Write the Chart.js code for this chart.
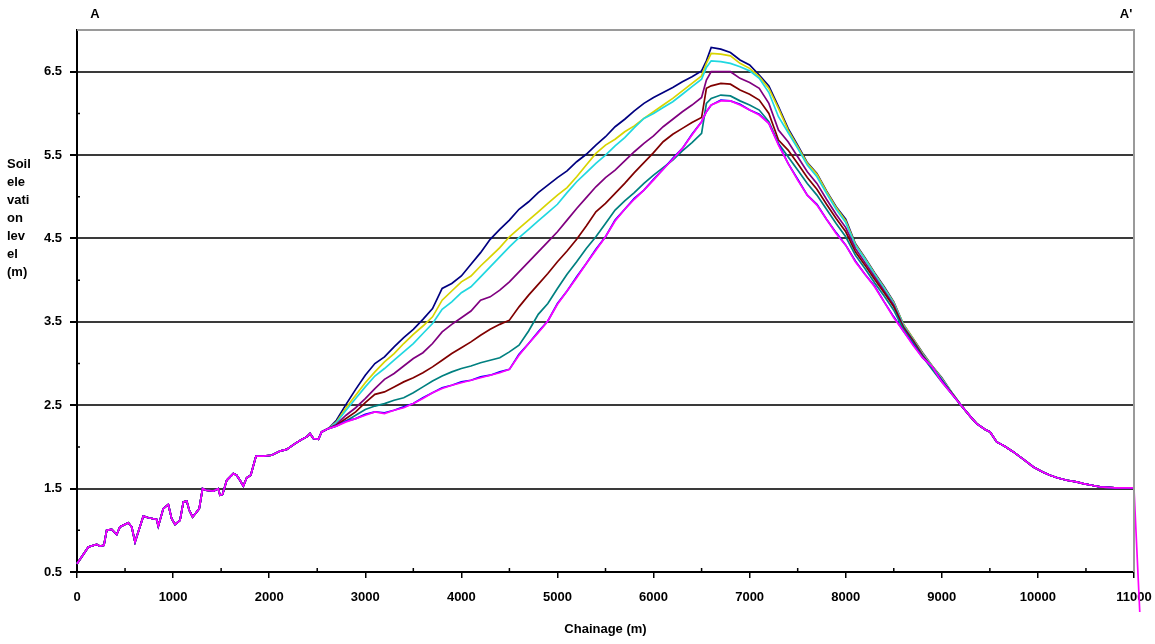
<!DOCTYPE html>
<html>
<head>
<meta charset="utf-8">
<script src="https://cdn.jsdelivr.net/npm/chart.js@4.4.1/dist/chart.umd.min.js"></script>
<style>
  html, body { margin: 0; padding: 0; background: #fff; }
  #wrap { width: 1155px; height: 644px; position: relative; }
</style>
</head>
<body>
<div id="wrap"><canvas id="profileChart"></canvas></div>
<script>
// shared profile, chainage 0 - 2650 m
var baseChainage = [0, 60, 118, 205, 240, 280, 309, 361, 413, 447, 534, 569, 604, 690, 742, 829, 846, 898, 950, 985,
  1020, 1072, 1107, 1142, 1168, 1203, 1245, 1272, 1307, 1342, 1419, 1470, 1488, 1515, 1558, 1627, 1661, 1696, 1731,
  1766, 1808, 1863, 1938, 2025, 2113, 2182, 2269, 2338, 2390, 2425, 2460, 2512, 2546, 2616];
var baseLevel = [0.60, 0.70, 0.80, 0.83, 0.81, 0.82, 1.00, 1.01, 0.95, 1.04, 1.09, 1.04, 0.86, 1.17, 1.15, 1.13, 1.05, 1.26, 1.31, 1.14,
  1.07, 1.12, 1.34, 1.35, 1.24, 1.16, 1.22, 1.26, 1.50, 1.48, 1.47, 1.50, 1.42, 1.43, 1.60, 1.68, 1.66, 1.60, 1.53,
  1.63, 1.66, 1.89, 1.89, 1.90, 1.95, 1.97, 2.04, 2.09, 2.12, 2.16, 2.10, 2.09, 2.18, 2.22];

// chainage where the runs differ
var chainage = [2700, 2800, 2900, 3000, 3100, 3200, 3300, 3400, 3500, 3600, 3700, 3800, 3900, 4000, 4100, 4200,
  4300, 4400, 4500, 4600, 4700, 4800, 4900, 5000, 5100, 5200, 5300, 5400, 5500, 5600, 5700, 5800, 5900, 6000,
  6100, 6200, 6300, 6400, 6500, 6550, 6600, 6700, 6800, 6900, 7000, 7100, 7200, 7300, 7400, 7500, 7600, 7700,
  7800, 7900, 8000, 8100, 8200, 8300, 8400, 8500, 8600, 8700, 8800, 8900, 9000, 9100];

var levelNavy = [2.32, 2.51, 2.69, 2.86, 3.00, 3.08, 3.20, 3.31, 3.41, 3.53, 3.66, 3.90, 3.96, 4.05, 4.19, 4.33,
  4.49, 4.61, 4.72, 4.85, 4.94, 5.05, 5.14, 5.23, 5.31, 5.42, 5.51, 5.62, 5.72, 5.84, 5.93, 6.03, 6.12, 6.19,
  6.25, 6.31, 6.38, 6.44, 6.51, 6.63, 6.79, 6.77, 6.73, 6.64, 6.58, 6.46, 6.33, 6.08, 5.82, 5.62, 5.41, 5.28,
  5.07, 4.88, 4.73, 4.44, 4.27, 4.09, 3.92, 3.74, 3.47, 3.30, 3.13, 2.97, 2.83, 2.66];
var levelYellow = [2.30, 2.47, 2.62, 2.77, 2.90, 3.02, 3.12, 3.24, 3.35, 3.45, 3.56, 3.76, 3.87, 3.98, 4.05, 4.17,
  4.28, 4.39, 4.52, 4.62, 4.72, 4.82, 4.92, 5.02, 5.11, 5.24, 5.38, 5.52, 5.62, 5.69, 5.78, 5.85, 5.94, 6.02,
  6.10, 6.18, 6.27, 6.36, 6.45, 6.60, 6.72, 6.71, 6.69, 6.60, 6.54, 6.44, 6.30, 6.06, 5.80, 5.60, 5.40, 5.27,
  5.06, 4.87, 4.71, 4.43, 4.26, 4.08, 3.91, 3.73, 3.47, 3.30, 3.12, 2.97, 2.82, 2.66];
var levelCyan = [2.29, 2.44, 2.58, 2.72, 2.85, 2.94, 3.04, 3.14, 3.24, 3.36, 3.48, 3.65, 3.74, 3.85, 3.92, 4.04,
  4.16, 4.28, 4.40, 4.51, 4.61, 4.71, 4.81, 4.91, 5.05, 5.18, 5.29, 5.40, 5.50, 5.61, 5.71, 5.83, 5.94, 6.00,
  6.07, 6.14, 6.23, 6.32, 6.41, 6.55, 6.63, 6.62, 6.60, 6.56, 6.51, 6.42, 6.25, 5.96, 5.77, 5.58, 5.38, 5.24,
  5.04, 4.85, 4.69, 4.42, 4.25, 4.07, 3.90, 3.72, 3.46, 3.29, 3.11, 2.96, 2.81, 2.66];
var levelPurple = [2.27, 2.38, 2.47, 2.58, 2.70, 2.81, 2.88, 2.97, 3.06, 3.13, 3.24, 3.38, 3.47, 3.55, 3.63, 3.76,
  3.80, 3.88, 3.98, 4.10, 4.22, 4.34, 4.46, 4.58, 4.72, 4.86, 4.99, 5.12, 5.23, 5.32, 5.43, 5.54, 5.64, 5.73,
  5.84, 5.93, 6.02, 6.10, 6.19, 6.40, 6.50, 6.50, 6.50, 6.42, 6.37, 6.30, 6.12, 5.80, 5.66, 5.48, 5.30, 5.16,
  4.97, 4.79, 4.63, 4.38, 4.21, 4.04, 3.87, 3.70, 3.44, 3.28, 3.10, 2.95, 2.80, 2.65];
var levelMaroon = [2.26, 2.34, 2.42, 2.53, 2.63, 2.66, 2.72, 2.78, 2.83, 2.89, 2.96, 3.04, 3.12, 3.19, 3.26, 3.34,
  3.41, 3.47, 3.52, 3.68, 3.82, 3.95, 4.08, 4.22, 4.35, 4.49, 4.65, 4.82, 4.92, 5.04, 5.16, 5.29, 5.41, 5.53,
  5.66, 5.75, 5.82, 5.89, 5.95, 6.30, 6.33, 6.36, 6.35, 6.28, 6.23, 6.16, 6.00, 5.68, 5.56, 5.40, 5.23, 5.09,
  4.91, 4.74, 4.58, 4.34, 4.18, 4.01, 3.85, 3.68, 3.43, 3.27, 3.09, 2.94, 2.79, 2.65];
var levelTeal = [2.25, 2.31, 2.38, 2.45, 2.49, 2.52, 2.56, 2.59, 2.65, 2.72, 2.79, 2.85, 2.90, 2.94, 2.97, 3.01,
  3.04, 3.07, 3.14, 3.22, 3.39, 3.59, 3.72, 3.90, 4.07, 4.22, 4.38, 4.52, 4.68, 4.84, 4.95, 5.05, 5.16, 5.26,
  5.35, 5.44, 5.55, 5.65, 5.76, 6.12, 6.18, 6.22, 6.21, 6.15, 6.10, 6.04, 5.90, 5.64, 5.48, 5.32, 5.16, 5.02,
  4.85, 4.68, 4.52, 4.30, 4.14, 3.97, 3.81, 3.64, 3.41, 3.25, 3.08, 2.93, 2.78, 2.64];
var levelBlue = [2.25, 2.31, 2.34, 2.39, 2.42, 2.41, 2.44, 2.48, 2.52, 2.59, 2.65, 2.71, 2.74, 2.78, 2.80, 2.84,
  2.86, 2.90, 2.93, 3.11, 3.24, 3.38, 3.51, 3.72, 3.87, 4.04, 4.20, 4.37, 4.52, 4.72, 4.85, 4.98, 5.08, 5.21,
  5.33, 5.46, 5.58, 5.75, 5.90, 6.02, 6.10, 6.16, 6.15, 6.11, 6.04, 5.99, 5.88, 5.63, 5.40, 5.21, 5.02, 4.91,
  4.73, 4.57, 4.42, 4.23, 4.07, 3.93, 3.74, 3.56, 3.39, 3.23, 3.07, 2.96, 2.79, 2.64];
var levelMagenta = [2.25, 2.30, 2.34, 2.38, 2.42, 2.40, 2.44, 2.47, 2.52, 2.58, 2.65, 2.70, 2.74, 2.77, 2.80, 2.83,
  2.86, 2.89, 2.93, 3.10, 3.24, 3.37, 3.51, 3.71, 3.87, 4.03, 4.20, 4.36, 4.52, 4.71, 4.85, 4.97, 5.08, 5.20,
  5.33, 5.45, 5.58, 5.74, 5.90, 6.02, 6.10, 6.15, 6.15, 6.10, 6.04, 5.98, 5.88, 5.62, 5.40, 5.20, 5.02, 4.90,
  4.73, 4.56, 4.42, 4.22, 4.07, 3.92, 3.74, 3.55, 3.39, 3.22, 3.07, 2.96, 2.78, 2.64];

// shared profile again, 9200 m to the end
var tailChainage = [9200, 9300, 9363, 9450, 9502, 9571, 9650, 9745, 9850, 9953, 10050, 10126, 10200, 10300,
  10400, 10473, 10560, 10646, 10800, 10990, 11000];
var tailLevel = [2.50, 2.36, 2.28, 2.21, 2.18, 2.06, 2.01, 1.94, 1.85, 1.76, 1.70, 1.66, 1.63, 1.60,
  1.58, 1.56, 1.54, 1.52, 1.51, 1.51, 1.50];
// end drop, seen only on the top run
var dropChainage = [11060];
var dropLevel = [0.02];

var xTicks = [0, 1000, 2000, 3000, 4000, 5000, 6000, 7000, 8000, 9000, 10000, 11000];
var yTicks = [0.5, 1.5, 2.5, 3.5, 4.5, 5.5, 6.5];

function buildSeries(mid, withDrop) {
  var pts = [];
  baseChainage.forEach(function (x, i) { pts.push({ x: x, y: baseLevel[i] }); });
  chainage.forEach(function (x, i) { pts.push({ x: x, y: mid[i] }); });
  tailChainage.forEach(function (x, i) { pts.push({ x: x, y: tailLevel[i] }); });
  if (withDrop) {
    dropChainage.forEach(function (x, i) { pts.push({ x: x, y: dropLevel[i] }); });
  }
  return pts;
}

// first in list is drawn on top
var runs = [
  { data: levelMagenta, color: "#ff00ff", drop: true },
  { data: levelBlue, color: "#0000ff" },
  { data: levelTeal, color: "#008080" },
  { data: levelMaroon, color: "#800000" },
  { data: levelPurple, color: "#800080" },
  { data: levelCyan, color: "#20d8e0" },
  { data: levelYellow, color: "#d8d400" },
  { data: levelNavy, color: "#000080" }
];

function isMajorY(v) {
  return yTicks.some(function (t) { return Math.abs(t - v) < 1e-6; });
}

var frame = {
  id: "frame",
  beforeDraw: function (chart) {
    var c = chart.ctx;
    c.save();
    c.fillStyle = "#fff";
    c.fillRect(0, 0, chart.width, chart.height);
    c.restore();
  },
  afterDraw: function (chart) {
    var c = chart.ctx;
    var a = chart.chartArea;
    var xs = chart.scales.x, ys = chart.scales.y;
    c.save();
    // top and right border
    c.strokeStyle = "#9a9a9a";
    c.lineWidth = 2;
    c.beginPath();
    c.moveTo(a.left, a.top);
    c.lineTo(a.right, a.top);
    c.lineTo(a.right, a.bottom);
    c.stroke();
    // minor ticks
    c.strokeStyle = "#000";
    c.lineWidth = 1.5;
    c.beginPath();
    for (var v = 1.0; v < 7; v += 1) {
      var py = ys.getPixelForValue(v);
      c.moveTo(a.left, py);
      c.lineTo(a.left + 3, py);
    }
    for (var h = 500; h < 11000; h += 1000) {
      var px = xs.getPixelForValue(h);
      c.moveTo(px, a.bottom);
      c.lineTo(px, a.bottom - 4);
    }
    c.stroke();
    // section labels and axis title
    c.fillStyle = "#000";
    c.font = "bold 13px 'Liberation Sans', Arial, sans-serif";
    c.textAlign = "center";
    c.textBaseline = "middle";
    c.fillText("A", 95, 14);
    c.fillText("A'", 1126, 14);
    c.textAlign = "left";
    var yTitle = ["Soil", "ele", "vati", "on", "lev", "el", "(m)"];
    yTitle.forEach(function (s, i) { c.fillText(s, 7, 164 + i * 18); });
    c.restore();
  }
};

new Chart(document.getElementById("profileChart"), {
  type: "line",
  data: {
    datasets: runs.map(function (r) {
      return {
        data: buildSeries(r.data, r.drop),
        borderColor: r.color,
        backgroundColor: r.color,
        borderWidth: 1.7,
        pointRadius: 0,
        tension: 0,
        clip: false
      };
    })
  },
  options: {
    responsive: true,
    maintainAspectRatio: false,
    animation: false,
    events: [],
    layout: { padding: { top: 30, right: 21, left: 0, bottom: 0 } },
    plugins: { legend: { display: false }, tooltip: { enabled: false } },
    scales: {
      x: {
        type: "linear",
        bounds: "data",
        afterDataLimits: function (s) { s.min = 0; s.max = 11000; },
        afterFit: function (s) { s.height = 72; s.paddingRight = 0; s.paddingLeft = 0; },
        afterBuildTicks: function (s) { s.ticks = xTicks.map(function (v) { return { value: v }; }); },
        ticks: {
          color: "#000",
          font: { family: "'Liberation Sans', Arial, sans-serif", size: 13, weight: "bold" },
          padding: 12,
          maxRotation: 0,
          autoSkip: false,
          callback: function (v) { return String(v); }
        },
        grid: { drawOnChartArea: false, tickLength: 6, tickColor: "#000", lineWidth: 1.5 },
        border: { color: "#000", width: 2 },
        title: {
          display: true,
          text: "Chainage (m)",
          color: "#000",
          font: { family: "'Liberation Sans', Arial, sans-serif", size: 13, weight: "bold" },
          padding: { top: 8, bottom: 7 }
        }
      },
      y: {
        min: 0.5,
        max: 7.0,
        afterFit: function (s) { s.width = 77; },
        ticks: {
          stepSize: 0.5,
          color: "#000",
          font: { family: "'Liberation Sans', Arial, sans-serif", size: 13, weight: "bold" },
          padding: 8,
          callback: function (v) { return isMajorY(v) ? v.toFixed(1) : ""; }
        },
        grid: {
          lineWidth: 2,
          tickLength: 7,
          color: function (ctx) {
            var v = ctx.tick ? ctx.tick.value : 0;
            return isMajorY(v) && v > 0.6 ? "#3a3a3a" : "rgba(0,0,0,0)";
          },
          tickColor: function (ctx) {
            var v = ctx.tick ? ctx.tick.value : 0;
            return isMajorY(v) ? "#000" : "rgba(0,0,0,0)";
          }
        },
        border: { color: "#000", width: 2 }
      }
    }
  },
  plugins: [frame]
});
</script>
</body>
</html>
